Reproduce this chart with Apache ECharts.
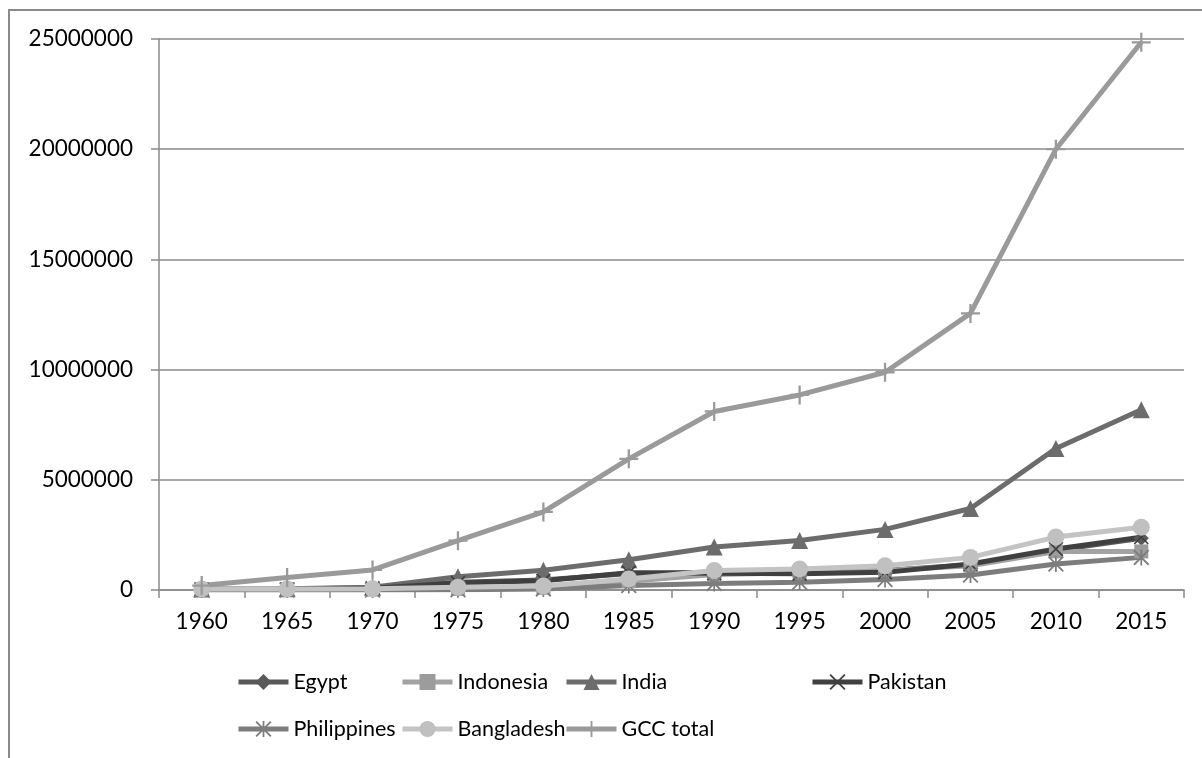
<!DOCTYPE html>
<html>
<head>
<meta charset="utf-8">
<title>Migrant population in the GCC</title>
<script src="https://cdn.jsdelivr.net/npm/echarts@6/dist/echarts.min.js"></script>
<style>
  html, body { margin: 0; padding: 0; background: #ffffff; }
  #chart { width: 1202px; height: 758px; }
</style>
</head>
<body>
<div id="chart"></div>
<script>
// Census years on the category axis
const years = ['1960', '1965', '1970', '1975', '1980', '1985', '1990', '1995', '2000', '2005', '2010', '2015'];

// Y-axis tick values
const yTicks = [0, 5000000, 10000000, 15000000, 20000000, 25000000];

// Migrant stock per country of origin
const egypt       = [30000, 40000, 100000, 350000, 450000, 750000, 800000, 850000, 880000, 1150000, 1800000, 2350000];
const indonesia   = [20000, 20000, 20000, 50000, 100000, 400000, 700000, 780000, 880000, 1100000, 1750000, 1750000];
const india       = [50000, 60000, 120000, 600000, 900000, 1370000, 1950000, 2250000, 2750000, 3700000, 6420000, 8180000];
const pakistan    = [20000, 30000, 80000, 320000, 420000, 780000, 760000, 740000, 800000, 1180000, 1860000, 2400000];
const philippines = [0, 0, 0, 10000, 50000, 200000, 300000, 350000, 480000, 680000, 1180000, 1480000];
const bangladesh  = [50000, 50000, 60000, 120000, 180000, 500000, 880000, 950000, 1100000, 1480000, 2400000, 2850000];
const gccTotal    = [200000, 570000, 910000, 2240000, 3540000, 5950000, 8100000, 8850000, 9880000, 12550000, 20000000, 24850000];

const FONT = 'Lato';
const AXIS_GREY = '#8a8a8a';
const LINE_W = 5;

// Marker shapes drawn as filled outlines
const PLUS = 'path://M4.4,0h1.2v10h-1.2zM0,4.4h10v1.2h-10z';
const CROSS = 'path://M0,0.8L0.8,0L10,9.2L9.2,10ZM9.2,0L10,0.8L0.8,10L0,9.2Z';
const STAR = 'path://M0,0.8L0.8,0L10,9.2L9.2,10ZM9.2,0L10,0.8L0.8,10L0,9.2ZM4.45,0h1.1v10h-1.1z';

function lineSeries(name, data, color, symbol, size, markerColor) {
  return {
    name: name,
    type: 'line',
    data: data,
    symbol: symbol,
    symbolSize: size,
    showAllSymbol: true,
    lineStyle: { color: color, width: LINE_W },
    itemStyle: { color: markerColor || color },
    emphasis: { disabled: true },
    z: 3
  };
}

const series = [
  lineSeries('Egypt', egypt, '#595959', 'diamond', 15),
  lineSeries('Indonesia', indonesia, '#a3a3a3', 'rect', 14, '#9c9c9c'),
  lineSeries('India', india, '#6c6c6c', 'triangle', 17),
  lineSeries('Pakistan', pakistan, '#404040', CROSS, 15),
  lineSeries('Philippines', philippines, '#7d7d7d', STAR, 16),
  lineSeries('Bangladesh', bangladesh, '#c4c4c4', 'circle', 17, '#c0c0c0'),
  lineSeries('GCC total', gccTotal, '#9a9a9a', PLUS, 19)
];

// Legend entries laid out in a fixed grid below the plot
const legendSlots = [
  ['Egypt', 236, 671],
  ['Indonesia', 400, 671],
  ['India', 564, 671],
  ['Pakistan', 810, 671],
  ['Philippines', 236, 718],
  ['Bangladesh', 400, 718],
  ['GCC total', 564, 718]
];

const legends = legendSlots.map(function (s) {
  return {
    data: [s[0]],
    left: s[1],
    top: s[2],
    padding: 0,
    itemWidth: 50,
    itemHeight: 20,
    selectedMode: false,
    lineStyle: { width: LINE_W },
    textStyle: { fontFamily: FONT, fontSize: 21.5, color: '#000000' }
  };
});

const chart = echarts.init(document.getElementById('chart'), null, { renderer: 'canvas' });
chart.setOption({
  animation: false,
  backgroundColor: '#ffffff',
  graphic: [{
    type: 'rect',
    shape: { x: 9, y: 10, width: 1400, height: 1000 },
    style: { fill: 'none', stroke: AXIS_GREY, lineWidth: 2 },
    silent: true,
    z: -1
  }],
  legend: legends,
  grid: { left: 159, right: 18, top: 39, bottom: 168, containLabel: false },
  xAxis: {
    type: 'category',
    data: years,
    boundaryGap: true,
    axisLine: { lineStyle: { color: AXIS_GREY, width: 1.5 } },
    axisTick: { show: true, length: 8, lineStyle: { color: AXIS_GREY, width: 1.5 } },
    axisLabel: { fontFamily: FONT, fontSize: 22.5, color: '#000000', margin: 20 },
    splitLine: { show: false }
  },
  yAxis: {
    type: 'value',
    min: yTicks[0],
    max: yTicks[yTicks.length - 1],
    interval: yTicks[1] - yTicks[0],
    axisLine: { show: true, lineStyle: { color: AXIS_GREY, width: 1.5 } },
    axisTick: { show: true, length: 8, lineStyle: { color: AXIS_GREY, width: 1.5 } },
    axisLabel: {
      fontFamily: FONT, fontSize: 22.5, color: '#000000', margin: 26,
      formatter: function (v) { return String(v); }
    },
    splitLine: { show: true, lineStyle: { color: AXIS_GREY, width: 1.5 } }
  },
  series: series
});
</script>
</body>
</html>
